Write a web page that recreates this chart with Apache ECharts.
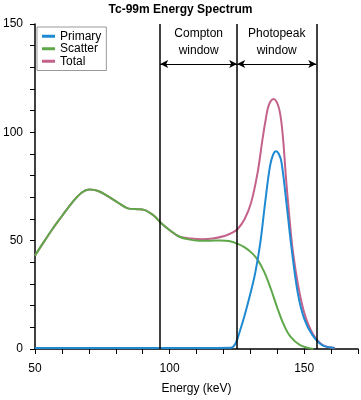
<!DOCTYPE html>
<html>
<head>
<meta charset="utf-8">
<script src="https://cdn.jsdelivr.net/npm/echarts@6/dist/echarts.min.js"></script>
<style>
html,body{margin:0;padding:0;background:#fff;}
#chart{width:361px;height:400px;}
</style>
</head>
<body>
<div id="chart"></div>
<script>
// Energy (keV), counts
var primaryData = [
  [50,0.5],[70,0.5],[90,0.5],[110,0.5],[122.8,0.6],[124.5,2.5],[126.3,9],[128.1,16.5],
  [129.9,25],[131.8,35],[133.7,49],[135.5,67.6],[137.3,84.4],[138.5,89.8],[139.5,91.3],
  [140.6,90],[141.6,86],[143.4,67.6],[145.2,47.7],[147.6,26],[150,14],[153.1,6.4],
  [156.7,1.8],[161.3,0.5]
];
var scatterData = [
  [50,43.1],[52.8,48.5],[56.5,55.4],[60.1,61.5],[63.8,67.6],[67.4,72.2],[70.1,73.6],
  [73.5,72.9],[77.2,70.4],[80.8,67.6],[84.5,64.9],[88.1,64.5],[90.5,64.2],[94.2,61.5],
  [96.6,58.4],[100.3,54.6],[103.7,51.8],[107,50.6],[111,50],[115,50],[119,50.1],
  [122,49.8],[125.3,48.5],[127.9,46.9],[130.3,44.6],[132.5,41.6],[135.2,35.5],
  [137.6,27.8],[140.1,18.7],[142.5,11],[144.9,5.7],[148.5,1.8],[153.4,0]
];
var totalData = [
  [50,43.1],[52.8,48.5],[56.5,55.4],[60.1,61.5],[63.8,67.6],[67.4,72.2],[70.1,73.6],
  [73.5,72.9],[77.2,70.4],[80.8,67.6],[84.5,64.9],[88.1,64.5],[90.5,64.2],[94.2,61.5],
  [96.6,58.4],[100.3,54.6],[103.7,51.8],[108,51],[112,50.7],[116,51],[120.7,52.3],
  [123.5,53.8],[125.3,55.4],[127.9,60],[130.3,67.6],[132.7,81.4],[134.5,96.6],
  [135.7,105.8],[136.9,112.7],[138.7,115.4],[140.3,112.5],[141.4,106],[142.3,95],
  [143.3,78],[144.5,61],[145.8,45],[147.8,29],[150.2,16],[153.3,6.8],[156.9,1.8],[161.5,0.5]
];
var windowEdges = [96.5, 125.1, 154.5];
var windowLabels = ['Compton\nwindow', 'Photopeak\nwindow'];
var arrowLevel = 131.5;
var xTickLabels = [50, 100, 150];
var yTickLabels = [0, 50, 100, 150];
var legendNames = ['Primary', 'Scatter', 'Total'];

var FONT = 'Liberation Sans, Arial, Helvetica, sans-serif';
var chart = echarts.init(document.getElementById('chart'), null, {renderer: 'canvas'});

var markLineData = windowEdges.map(function (e) { return [{xAxis: e, yAxis: 0}, {xAxis: e, yAxis: 150}]; });
var arrowData = [];
for (var i = 0; i < windowLabels.length; i++) {
  arrowData.push([
    {coord: [windowEdges[i], arrowLevel], label: {formatter: windowLabels[i]}},
    {coord: [windowEdges[i + 1], arrowLevel]}
  ]);
}

var option = {
  animation: false,
  backgroundColor: '#fff',
  title: {
    text: 'Tc-99m Energy Spectrum',
    left: 'center', top: -1,
    textStyle: {fontFamily: FONT, fontSize: 12, fontWeight: 'bold', color: '#000'}
  },
  legend: {
    data: legendNames,
    orient: 'vertical',
    left: 37, top: 27,
    padding: [3, 5, 3, 5],
    itemGap: 0,
    itemWidth: 13, itemHeight: 3,
    icon: 'rect',
    borderColor: '#999', borderWidth: 1,
    textStyle: {fontFamily: FONT, fontSize: 12, color: '#000', lineHeight: 12.5, padding: [0, 0, 0, 0]}
  },
  grid: {left: 33, right: 0, top: 24, bottom: 49},
  xAxis: {
    type: 'value', min: 50, max: 170, interval: 10,
    name: 'Energy (keV)', nameLocation: 'middle', nameGap: 34,
    nameTextStyle: {fontFamily: FONT, fontSize: 12, color: '#000'},
    axisLine: {lineStyle: {color: '#000', width: 1.5}},
    axisTick: {length: 5, lineStyle: {color: '#000', width: 1}},
    axisLabel: {
      margin: 14, fontFamily: FONT, fontSize: 12, color: '#000',
      formatter: function (v) { return xTickLabels.indexOf(v) >= 0 ? String(v) : ''; }
    },
    splitLine: {show: false}
  },
  yAxis: {
    type: 'value', min: 0, max: 150, interval: 10,
    axisLine: {show: true, lineStyle: {color: '#000', width: 1.5}},
    axisTick: {show: true, length: 5, lineStyle: {color: '#000', width: 1}},
    axisLabel: {
      margin: 12, fontFamily: FONT, fontSize: 12, color: '#000',
      formatter: function (v) { return yTickLabels.indexOf(v) >= 0 ? String(v) : ''; }
    },
    splitLine: {show: false}
  },
  series: [
    {
      name: 'Total', type: 'line', data: totalData, smooth: 0.35, showSymbol: false,
      lineStyle: {color: '#c4628c', width: 2}, itemStyle: {color: '#c4628c'},
      markLine: {
        silent: true, symbol: ['none', 'none'],
        lineStyle: {color: '#000', width: 1.5, type: 'solid'},
        label: {show: false},
        data: markLineData
      }
    },
    {
      name: 'Scatter', type: 'line', data: scatterData, smooth: 0.35, showSymbol: false,
      lineStyle: {color: '#5fa84a', width: 2}, itemStyle: {color: '#5fa84a'},
      markLine: {
        silent: true, symbol: ['arrow', 'arrow'], symbolSize: [6, 8],
        lineStyle: {color: '#000', width: 1.2, type: 'solid'},
        label: {show: true, position: 'middle', distance: 5, color: '#000',
                fontFamily: FONT, fontSize: 12, lineHeight: 17},
        data: arrowData
      }
    },
    {
      name: 'Primary', type: 'line', data: primaryData, smooth: 0.35, showSymbol: false,
      lineStyle: {color: '#1e8ad2', width: 2}, itemStyle: {color: '#1e8ad2'}
    }
  ]
};
chart.setOption(option);
</script>
</body>
</html>
